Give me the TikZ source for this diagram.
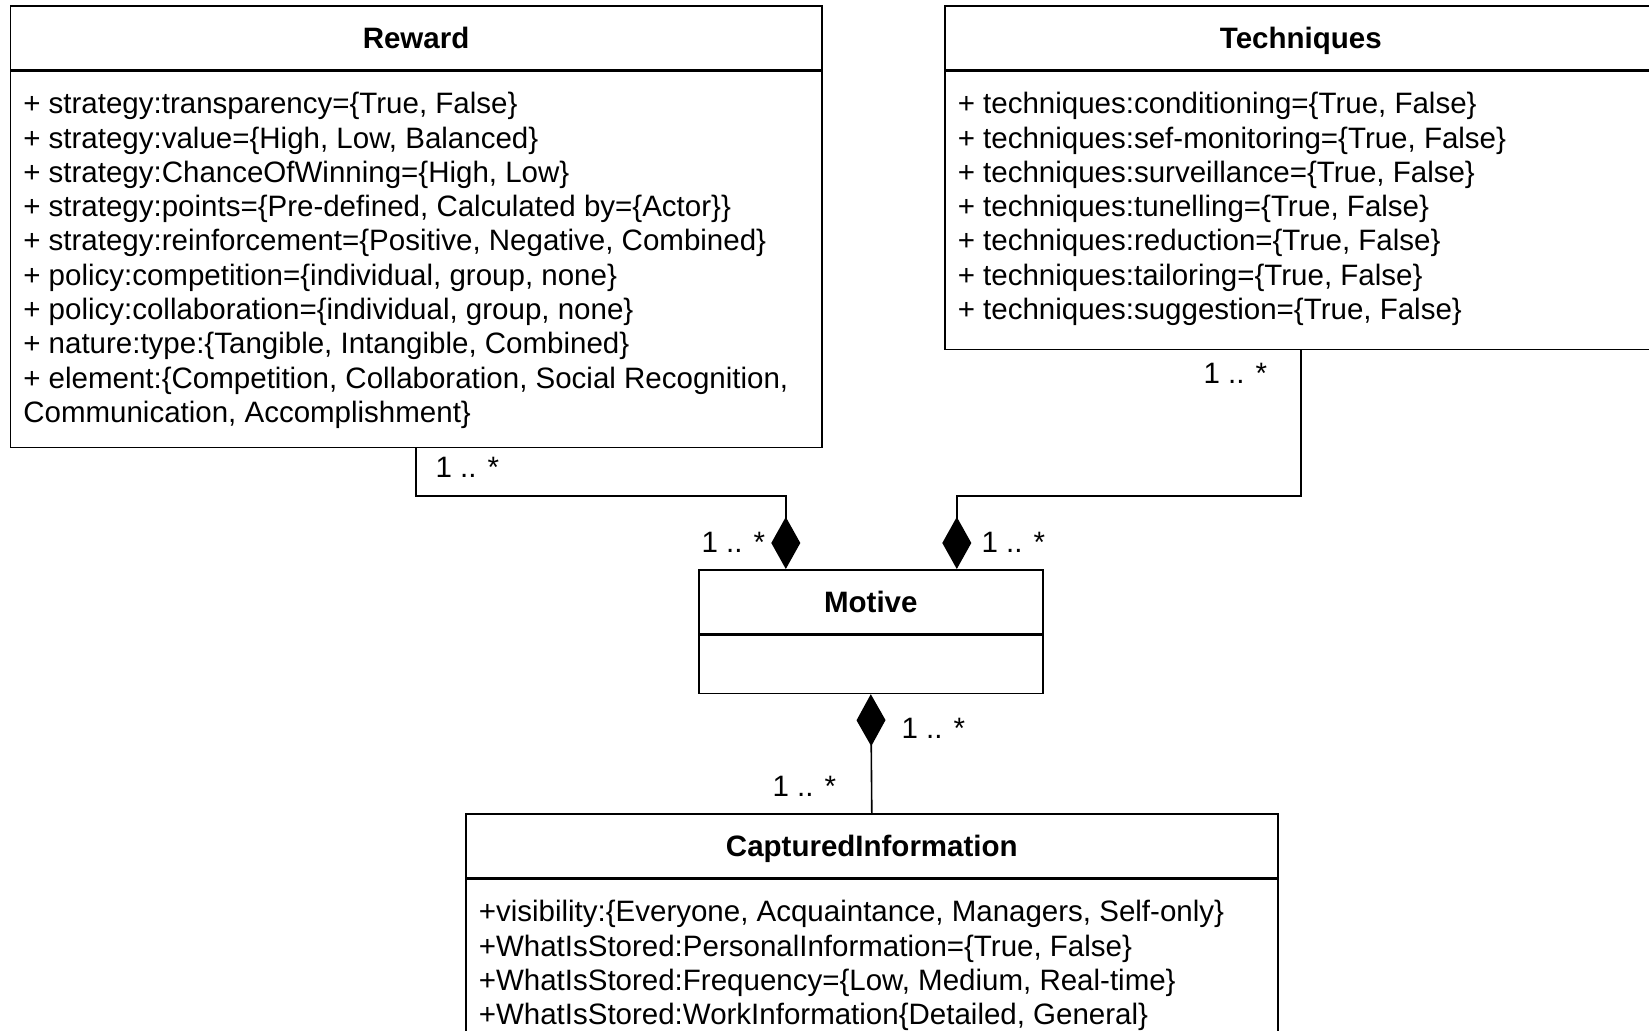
\documentclass[tikz,border=0pt]{standalone}
\usepackage{fontspec}
\setmainfont{Liberation Sans}
\usetikzlibrary{positioning,arrows.meta}

\begin{document}
\begin{tikzpicture}[x=1pt, y=1pt, line width=0.8pt,
    every node/.style={font=\fontsize{14.75}{17.15}\selectfont},
    classhead/.style={draw, minimum height=32pt, inner sep=0pt, anchor=north west,
        text height=10.6pt, text depth=0pt,
        font=\fontsize{14.75}{17.15}\selectfont\bfseries},
    classbody/.style={draw, inner sep=0pt},
    attrs/.style={inner sep=0pt, align=left},
    mult/.style={inner sep=0pt},
    compose/.style={-{Diamond[length=26pt,width=14.5pt]}}]
\useasboundingbox (0,0) rectangle (824.5,-515.5);
\clip (0,0) rectangle (824.5,-515.5);

% classes
\node[classhead, minimum width=405.75pt] (reward) at (4.75,-2.5) {Reward};
\node[classbody, minimum width=405.75pt, minimum height=188pt, below=0pt of reward] (rewardbody) {};
\node[attrs, below right=10.5pt and 6.5pt of rewardbody.north west] (rewardattrs) {%
    + strategy:transparency=\{True, False\}\\
    + strategy:value=\{High, Low, Balanced\}\\
    + strategy:ChanceOfWinning=\{High, Low\}\\
    + strategy:points=\{Pre-defined, Calculated by=\{Actor\}\}\\
    + strategy:reinforcement=\{Positive, Negative, Combined\}\\
    + policy:competition=\{individual, group, none\}\\
    + policy:collaboration=\{individual, group, none\}\\
    + nature:type:\{Tangible, Intangible, Combined\}\\
    + element:\{Competition, Collaboration, Social Recognition,\\
    Communication, Accomplishment\}};

\node[classhead, minimum width=356pt] (tech) at (472,-2.5) {Techniques};
\node[classbody, minimum width=356pt, minimum height=139pt, below=0pt of tech] (techbody) {};
\node[attrs, below right=10.5pt and 6.5pt of techbody.north west] (techattrs) {%
    + techniques:conditioning=\{True, False\}\\
    + techniques:sef-monitoring=\{True, False\}\\
    + techniques:surveillance=\{True, False\}\\
    + techniques:tunelling=\{True, False\}\\
    + techniques:reduction=\{True, False\}\\
    + techniques:tailoring=\{True, False\}\\
    + techniques:suggestion=\{True, False\}};

\node[classhead, minimum width=172pt] (motive) at (349,-284.5) {Motive};
\node[classbody, minimum width=172pt, minimum height=29pt, below=0pt of motive] (motivebody) {};

\node[classhead, minimum width=406pt] (captured) at (232.5,-406.5) {CapturedInformation};
\node[classbody, minimum width=406pt, minimum height=90pt, below=0pt of captured] (capturedbody) {};
\node[attrs, below right=10.5pt and 6.5pt of capturedbody.north west] (capturedattrs) {%
    +visibility:\{Everyone, Acquaintance, Managers, Self-only\}\\
    +WhatIsStored:PersonalInformation=\{True, False\}\\
    +WhatIsStored:Frequency=\{Low, Medium, Real-time\}\\
    +WhatIsStored:WorkInformation\{Detailed, General\}};

% compositions
\draw[compose] (rewardbody.south) -- ++(0,-24) -| ([xshift=-42.5pt]motive.north);
\draw[compose] (techbody.south) -- ++(0,-73) -| ([xshift=43pt]motive.north);
\draw[compose] (captured.north) -- (motivebody.south);

% multiplicities
\node[mult, anchor=west] (rewardmult) at ([shift={(9.4pt,-9.5pt)}]rewardbody.south) {1 .. *};
\node[mult, anchor=east] (techmult) at ([shift={(-16.5pt,-11.5pt)}]techbody.south) {1 .. *};
\node[mult, anchor=east] (motivemultl) at ([shift={(-52.5pt,13.5pt)}]motive.north) {1 .. *};
\node[mult, anchor=west] (motivemultr) at ([shift={(55pt,13.5pt)}]motive.north) {1 .. *};
\node[mult, anchor=west] (motivemultb) at ([shift={(15pt,-17pt)}]motivebody.south) {1 .. *};
\node[mult, anchor=east] (capturedmult) at ([shift={(-17.5pt,13.5pt)}]captured.north) {1 .. *};
\end{tikzpicture}
\end{document}
